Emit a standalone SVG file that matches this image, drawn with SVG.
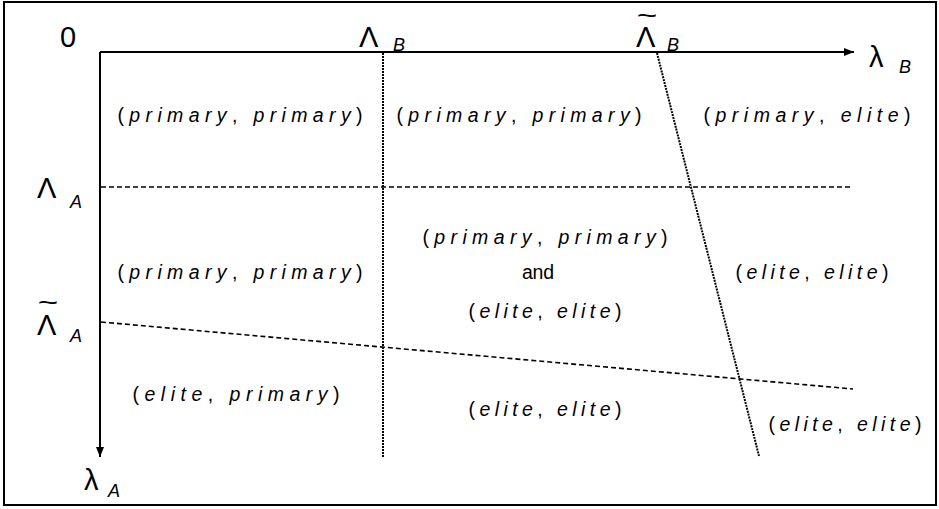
<svg xmlns="http://www.w3.org/2000/svg" width="939" height="509" viewBox="0 0 939 509">
<style>
.big{font-family:"Liberation Sans",Arial,sans-serif;font-size:29px;fill:#000}
.tl{font-family:"Liberation Sans",Arial,sans-serif;font-size:26px;fill:#000}
.sub{font-family:"Liberation Sans",Arial,sans-serif;font-size:18px;font-style:italic;fill:#000}
.lab{font-family:"Liberation Sans",Arial,sans-serif;font-size:19.5px;fill:#000}
.it{font-style:italic}
.axis{stroke:#000;stroke-width:2;fill:none}
.dot{stroke:#000;stroke-width:2;stroke-dasharray:2 1;fill:none}
.dash{stroke:#000;stroke-width:1.6;stroke-dasharray:5 3;fill:none}
</style>
<defs>
<marker id="ah" viewBox="0 0 10 8" refX="10" refY="4" markerWidth="10" markerHeight="8" markerUnits="userSpaceOnUse" orient="auto">
<path d="M0,0 L10,4 L0,8 Z" fill="#000"/>
</marker>
</defs>
<rect x="4" y="2" width="932" height="503" fill="#fff" stroke="#000" stroke-width="2"/>
<g id="connectors">
<line id="axis-B" class="axis" x1="100" y1="52" x2="854" y2="52" marker-end="url(#ah)"/>
<line id="axis-A" class="axis" x1="100" y1="52" x2="100" y2="457" marker-end="url(#ah)"/>
<line id="line-LB" class="dot" x1="383" y1="53" x2="383" y2="457"/>
<line id="line-LtB" class="dot" x1="657" y1="53" x2="759" y2="456"/>
<line id="line-LA" class="dash" x1="101" y1="187" x2="853" y2="187"/>
<line id="line-LtA" class="dash" x1="101" y1="322" x2="853" y2="389"/>
</g>
<g id="axis-labels">
<text class="big" x="60" y="47">0</text>
<g id="lab-LB"><text class="big" x="359" y="47">Λ</text><text class="sub" x="393" y="51">B</text></g>
<g id="lab-LtB"><text class="big" x="636" y="47">Λ</text><text class="tl" text-anchor="middle" transform="translate(647,24) scale(1.35,1)">~</text><text class="sub" x="667" y="51">B</text></g>
<g id="lab-lB"><text class="big" x="869" y="67">λ</text><text class="sub" x="899" y="73">B</text></g>
<g id="lab-LA"><text class="big" x="37" y="198">Λ</text><text class="sub" x="70" y="208">A</text></g>
<g id="lab-LtA"><text class="big" x="37" y="335">Λ</text><text class="tl" text-anchor="middle" transform="translate(48,311) scale(1.35,1)">~</text><text class="sub" x="70" y="342">A</text></g>
<g id="lab-lA"><text class="big" x="84" y="490">λ</text><text class="sub" x="108" y="497">A</text></g>
</g>
<g id="region-r1c1"><text class="lab" x="240" y="122" text-anchor="middle" textLength="245" lengthAdjust="spacing">(<tspan class="it">primary</tspan>, <tspan class="it">primary</tspan>)</text></g>
<g id="region-r1c2"><text class="lab" x="519" y="122" text-anchor="middle" textLength="245" lengthAdjust="spacing">(<tspan class="it">primary</tspan>, <tspan class="it">primary</tspan>)</text></g>
<g id="region-r1c3"><text class="lab" x="807" y="122" text-anchor="middle" textLength="207" lengthAdjust="spacing">(<tspan class="it">primary</tspan>, <tspan class="it">elite</tspan>)</text></g>
<g id="region-r2c1"><text class="lab" x="240" y="279" text-anchor="middle" textLength="245" lengthAdjust="spacing">(<tspan class="it">primary</tspan>, <tspan class="it">primary</tspan>)</text></g>
<g id="region-r2c2">
<text class="lab" x="545" y="244" text-anchor="middle" textLength="245" lengthAdjust="spacing">(<tspan class="it">primary</tspan>, <tspan class="it">primary</tspan>)</text>
<text class="lab" x="538" y="279" text-anchor="middle" textLength="32" lengthAdjust="spacing">and</text>
<text class="lab" x="545" y="318" text-anchor="middle" textLength="153" lengthAdjust="spacing">(<tspan class="it">elite</tspan>, <tspan class="it">elite</tspan>)</text>
</g>
<g id="region-r2c3"><text class="lab" x="812" y="279" text-anchor="middle" textLength="153" lengthAdjust="spacing">(<tspan class="it">elite</tspan>, <tspan class="it">elite</tspan>)</text></g>
<g id="region-r3c1"><text class="lab" x="236" y="401" text-anchor="middle" textLength="207" lengthAdjust="spacing">(<tspan class="it">elite</tspan>, <tspan class="it">primary</tspan>)</text></g>
<g id="region-r3c2"><text class="lab" x="545" y="416" text-anchor="middle" textLength="153" lengthAdjust="spacing">(<tspan class="it">elite</tspan>, <tspan class="it">elite</tspan>)</text></g>
<g id="region-r3c3"><text class="lab" x="845" y="431" text-anchor="middle" textLength="153" lengthAdjust="spacing">(<tspan class="it">elite</tspan>, <tspan class="it">elite</tspan>)</text></g>
</svg>
